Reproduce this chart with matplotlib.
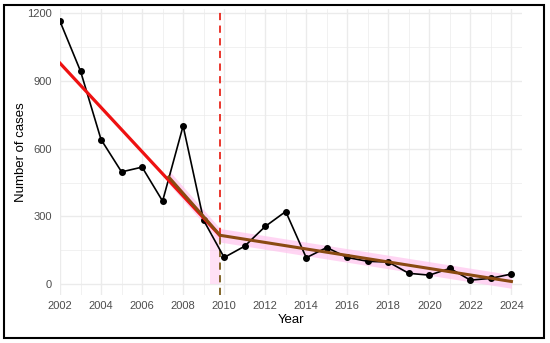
import matplotlib.pyplot as plt
from matplotlib.patches import Rectangle
import numpy as np

years = [2002, 2003, 2004, 2005, 2006, 2007, 2008, 2009, 2010, 2011, 2012, 2013,
         2014, 2015, 2016, 2017, 2018, 2019, 2020, 2021, 2022, 2023, 2024]
cases = [1162, 942, 640, 497, 518, 368, 700, 283, 119, 169, 256, 322,
         118, 163, 119, 102, 99, 49, 41, 71, 19, 27, 46]

# fitted segments
break_year = 2009.8
pre_x = [2002, break_year]
pre_y = [977, 215]
post_x = [2007.3, break_year, 2024]
post_y = [474, 217, 13]
band = 30

x_ticks = list(range(2002, 2025, 2))
y_ticks = [0, 300, 600, 900, 1200]

plt.rcParams['font.family'] = ['Liberation Sans', 'DejaVu Sans']

fig = plt.figure(figsize=(5.5, 3.43), dpi=100)
ax = fig.add_axes([60 / 550, (343 - 295.3) / 343, (521.7 - 60) / 550, (295.3 - 9.3) / 343])

ax.set_xlim(2002, 2024.5)
ax.set_ylim(-48, 1215)

grid_col = '#ebebeb'
ax.set_xticks(x_ticks)
ax.set_yticks(y_ticks)
ax.set_xticks(np.arange(2003, 2025, 2), minor=True)
ax.set_yticks([150, 450, 750, 1050], minor=True)
ax.grid(True, which='major', color=grid_col, lw=1.0)
ax.grid(True, which='minor', color=grid_col, lw=0.5)
ax.set_axisbelow(True)
for s in ax.spines.values():
    s.set_visible(False)
ax.tick_params(which='both', length=0, labelsize=8, labelcolor='#4d4d4d')
ax.tick_params(axis='x', pad=4)
ax.tick_params(axis='y', pad=6)

# confidence ribbon
px = np.array(post_x)
py = np.array(post_y)
ax.fill_between(px, py - band, py + band, color='#ffc4ee', alpha=0.7, lw=0, zorder=1)
ax.fill_between([break_year - 0.5, break_year], [0, 0], [217, 217], color='#ffc4ee', alpha=0.5, lw=0, zorder=1)

# breakpoint line: red above the fit, brown below
ax.plot([break_year, break_year], [217, 1215], color='#e8261c', lw=1.3, ls=(0, (4, 3)), zorder=2)
ax.plot([break_year, break_year], [-48, 217], color='#7a5a1a', lw=1.3, ls=(0, (4, 3)), zorder=2)

ax.plot(years, cases, color='black', lw=1.2, marker='o', ms=4, zorder=3)
ax.plot(pre_x, pre_y, color='#ee1111', lw=2.3, zorder=4)
ax.plot(post_x, post_y, color='#8a4a12', lw=2.2, zorder=5)

ax.set_xlabel('Year', fontsize=9.5, labelpad=2)
ax.set_ylabel('Number of cases', fontsize=9.5, labelpad=0)

fig.patches.append(Rectangle((4 / 550, 5 / 343), 540 / 550, 333 / 343, transform=fig.transFigure,
                             fill=False, edgecolor='black', lw=1.5))

fig.savefig('out.png', dpi=100)
